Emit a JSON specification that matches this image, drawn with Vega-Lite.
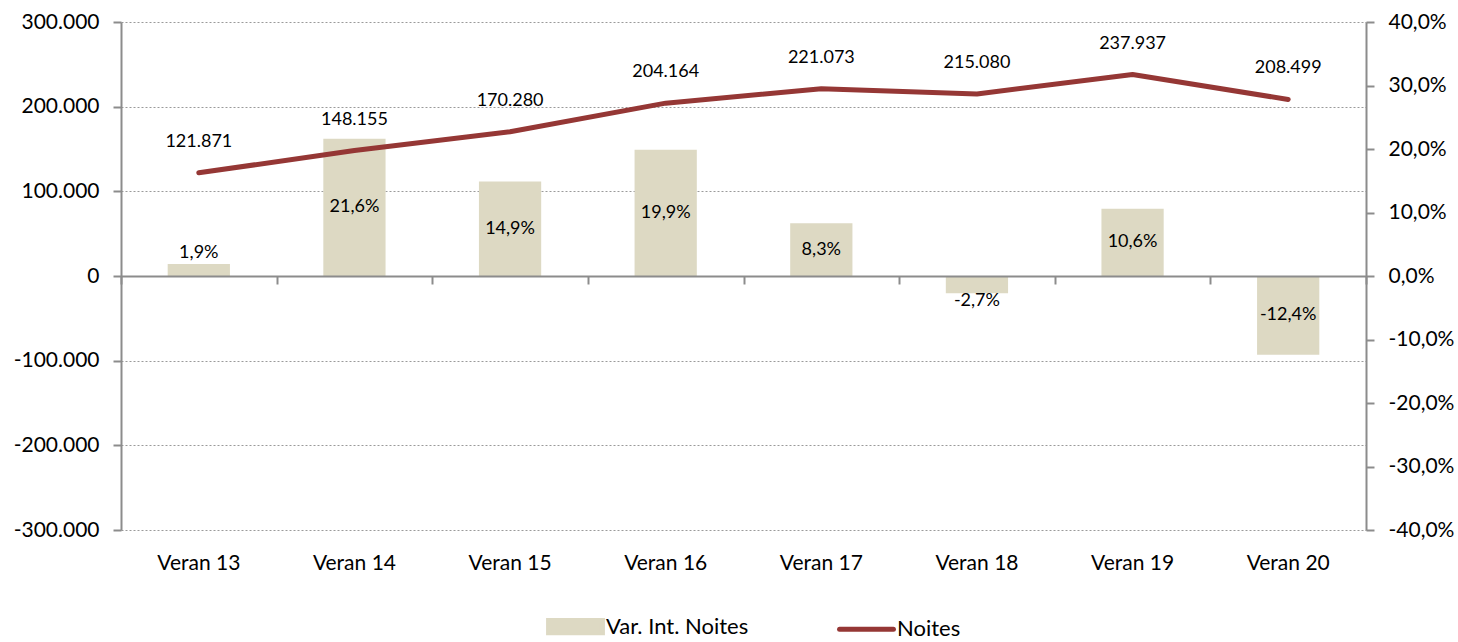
{
  "$schema": "https://vega.github.io/schema/vega-lite/v6.json",
  "width": 1245,
  "height": 508,
  "autosize": "none",
  "padding": {"left": 121, "top": 22, "right": 92, "bottom": 112},
  "config": {
    "locale": {"number": {"decimal": ",", "thousands": ".", "grouping": [3], "currency": ["", " €"], "minus": "-", "percent": "%"}},
    "font": "Lato",
    "view": {"stroke": null},
    "axis": {"labelFont": "Lato", "labelFontSize": 21, "labelColor": "#000000", "domainColor": "#8c8c8c", "tickColor": "#8c8c8c", "domainWidth": 2, "tickWidth": 2, "tickSize": 8, "titleFontSize": 0}
  },
  "data": {"values": [
    {"cat": "Veran 13", "noites": 121871, "pct": 0.019},
    {"cat": "Veran 14", "noites": 148155, "pct": 0.216},
    {"cat": "Veran 15", "noites": 170280, "pct": 0.149},
    {"cat": "Veran 16", "noites": 204164, "pct": 0.199},
    {"cat": "Veran 17", "noites": 221073, "pct": 0.083},
    {"cat": "Veran 18", "noites": 215080, "pct": -0.027},
    {"cat": "Veran 19", "noites": 237937, "pct": 0.106},
    {"cat": "Veran 20", "noites": 208499, "pct": -0.124}
  ]},
  "resolve": {"scale": {"y": "independent"}, "axis": {"x": "independent"}},
  "layer": [
    {
      "encoding": {
        "x": {"field": "cat", "type": "nominal", "sort": null, "title": null,
              "scale": {"paddingInner": 0, "paddingOuter": 0},
              "axis": {"orient": "bottom", "domain": false, "ticks": false, "tickSize": 0, "labelPadding": 22, "labelAngle": 0, "grid": false}}
      },
      "layer": [
        {
          "mark": {"type": "bar", "width": {"band": 0.4}, "color": "#DDD9C3"},
          "encoding": {
            "y": {"field": "pct", "type": "quantitative", "title": null,
                  "scale": {"domain": [-0.4, 0.4], "nice": false, "zero": true},
                  "axis": {"orient": "right", "values": [-0.4, -0.3, -0.2, -0.1, 0, 0.1, 0.2, 0.3, 0.4], "format": ".1%", "labelPadding": 14, "grid": false}},
            "color": {"datum": "Var. Int. Noites", "type": "nominal",
                      "scale": {"domain": ["Var. Int. Noites", "Noites"], "range": ["#DDD9C3", "#953735"]},
                      "legend": {
                        "orient": "none", "legendX": 425, "legendY": 575, "direction": "horizontal", "title": null,
                        "padding": 0,
                        "symbolSize": 2900, "labelFontSize": 22, "labelFont": "Lato", "labelColor": "#000000",
                        "labelOffset": 1, "columnPadding": 80, "labelLimit": 400,
                        "encode": {"symbols": {"update": {
                          "shape": {"signal": "datum.value === 'Noites' ? 'M-1,0H1' : 'M-1,-0.23H1V0.23H-1Z'"},
                          "fill": {"signal": "datum.value === 'Noites' ? 'transparent' : '#DDD9C3'"},
                          "stroke": {"signal": "datum.value === 'Noites' ? '#953735' : 'transparent'"},
                          "strokeWidth": {"value": 5},
                          "strokeCap": {"value": "round"},
                          "opacity": {"value": 1}
                        }}}
                      }}
          }
        },
        {
          "transform": [{"filter": "abs(datum.pct) >= 0.05"}, {"calculate": "datum.pct / 2", "as": "mid"}],
          "mark": {"type": "text", "fontSize": 18, "font": "Lato", "color": "#000000", "baseline": "middle"},
          "encoding": {
            "y": {"field": "mid", "type": "quantitative", "title": null, "scale": {"domain": [-0.4, 0.4], "nice": false, "zero": true}},
            "text": {"field": "pct", "type": "quantitative", "format": ".1%"}
          }
        },
        {
          "transform": [{"filter": "datum.pct > 0 && datum.pct < 0.05"}],
          "mark": {"type": "text", "fontSize": 18, "font": "Lato", "color": "#000000", "baseline": "middle", "dy": -11},
          "encoding": {
            "y": {"field": "pct", "type": "quantitative", "title": null},
            "text": {"field": "pct", "type": "quantitative", "format": ".1%"}
          }
        },
        {
          "transform": [{"filter": "datum.pct < 0 && datum.pct > -0.05"}],
          "mark": {"type": "text", "fontSize": 18, "font": "Lato", "color": "#000000", "baseline": "middle", "dy": 8},
          "encoding": {
            "y": {"field": "pct", "type": "quantitative", "title": null},
            "text": {"field": "pct", "type": "quantitative", "format": ".1%"}
          }
        }
      ]
    },
    {
      "encoding": {
        "x": {"field": "cat", "type": "nominal", "sort": null, "title": null,
              "axis": {"orient": "bottom", "offset": -254, "labels": false, "domain": true, "ticks": true, "tickBand": "extent", "tickSize": 8, "zindex": 1, "grid": false}},
        "y": {"field": "noites", "type": "quantitative", "title": null,
              "scale": {"domain": [-300000, 300000], "nice": false},
              "axis": {"orient": "left", "values": [-300000, -200000, -100000, 0, 100000, 200000, 300000], "format": ",.0f", "labelPadding": 14, "grid": true, "gridDash": [2, 2], "gridColor": "#9a9a9a", "gridWidth": 1}}
      },
      "layer": [
        {
          "mark": {"type": "line", "strokeWidth": 5, "strokeCap": "round", "strokeJoin": "round"},
          "encoding": {"color": {"datum": "Noites", "type": "nominal"}}
        },
        {
          "mark": {"type": "text", "fontSize": 18, "font": "Lato", "color": "#000000", "baseline": "middle", "dy": -31},
          "encoding": {"text": {"field": "noites", "type": "quantitative", "format": ",.0f"}}
        }
      ]
    }
  ]
}
